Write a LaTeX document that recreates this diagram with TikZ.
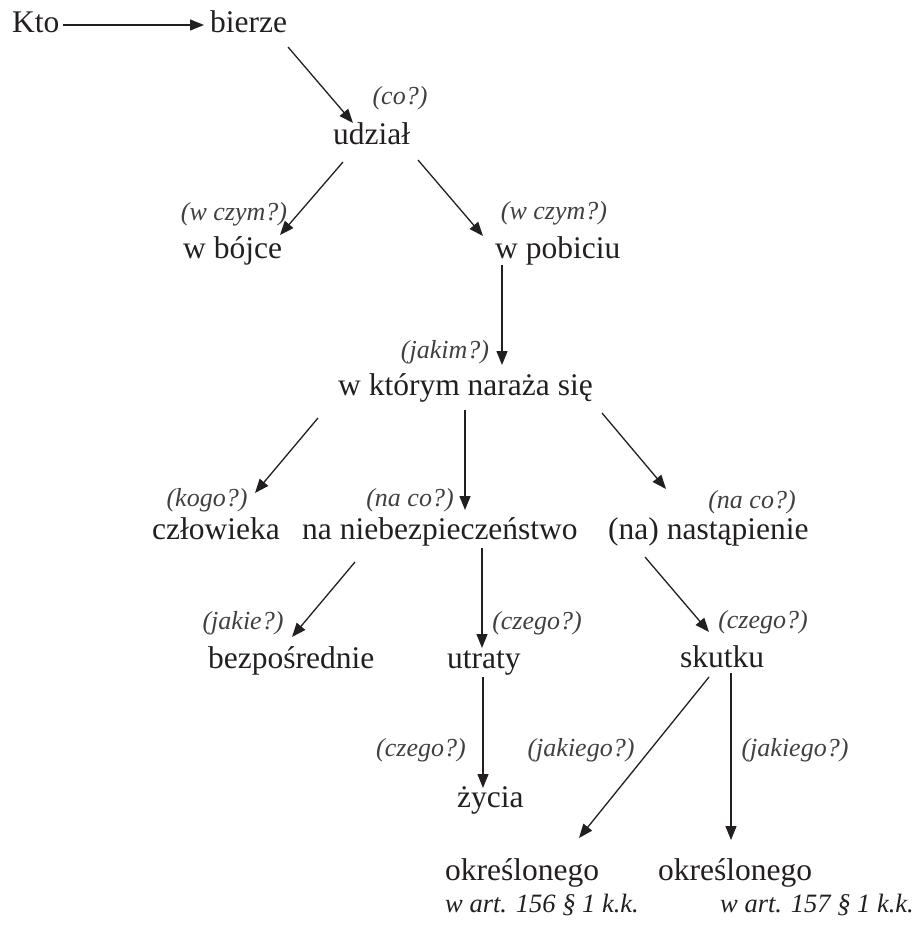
\documentclass[tikz,border=0pt]{standalone}
\usepackage{fontspec}
\setmainfont{Liberation Serif}
\usetikzlibrary{arrows.meta}
\definecolor{inkmain}{HTML}{231F20}
\definecolor{inkask}{HTML}{404040}
\begin{document}
\begin{tikzpicture}[x=1pt,y=-1pt,
 word/.style={anchor=base west,inner sep=0pt,text=inkmain,font=\fontsize{31.5}{36}\selectfont},
 ask/.style={inner sep=0pt,text=inkask,font=\fontsize{26}{30}\selectfont\itshape},
 art/.style={anchor=base west,inner sep=0pt,text=inkmain,font=\fontsize{26.5}{30}\selectfont\itshape},
 arr/.style={draw=inkmain,line width=1.3pt,-{Triangle[length=14pt,width=11pt]}}]
 \useasboundingbox (0,0) rectangle (917,925);
 \node[word] (kto) at (12,33) {Kto};
 \node[word] (bierze) at (210,33) {bierze};
 \node[word] (udzial) at (333,145) {udział};
 \node[word] (bojce) at (183,258) {w bójce};
 \node[word] (pobiciu) at (495,258) {w pobiciu};
 \node[word] (ktorym) at (338,395) {w którym naraża się};
 \node[word] (czlowieka) at (152,539) {człowieka};
 \node[word] (niebezp) at (302,539) {na niebezpieczeństwo};
 \node[word] (nastap) at (608,539) {(na) nastąpienie};
 \node[word] (bezpos) at (208,668) {bezpośrednie};
 \node[word] (utraty) at (447,668) {utraty};
 \node[word] (skutku) at (680,667) {skutku};
 \node[word] (zycia) at (457,807) {życia};
 \node[word] (okresl1) at (445,880) {określonego};
 \node[word] (okresl2) at (658,880) {określonego};
 \node[art] (art156) at (445,912) {w art. 156 § 1 k.k.};
 \node[art] (art157) at (720,912) {w art. 157 § 1 k.k.};
 \node[ask] (co) at (400,98) {(co?)};
 \node[ask] (wczym1) at (234,214) {(w czym?)};
 \node[ask] (wczym2) at (554,213) {(w czym?)};
 \node[ask] (jakim) at (445,352) {(jakim?)};
 \node[ask] (kogo) at (207,500) {(kogo?)};
 \node[ask] (naco1) at (410,500) {(na co?)};
 \node[ask] (naco2) at (752,502) {(na co?)};
 \node[ask] (jakie) at (243,623) {(jakie?)};
 \node[ask] (czego1) at (537,623) {(czego?)};
 \node[ask] (czego2) at (763,622) {(czego?)};
 \node[ask] (czego3) at (421,750) {(czego?)};
 \node[ask] (jakiego1) at (581,750) {(jakiego?)};
 \node[ask] (jakiego2) at (795,750) {(jakiego?)};
 \draw[arr] ([shift={(51,-8)}]kto.base west) -- ([shift={(-6,-8)}]bierze.base west);
 \draw[arr] ([shift={(78,14)}]bierze.base west) -- ([shift={(20,-22)}]udzial.base west);
 \draw[arr] ([shift={(10,17)}]udzial.base west) -- ([shift={(97,-23)}]bojce.base west);
 \draw[arr] ([shift={(85,15)}]udzial.base west) -- ([shift={(-12,-22)}]pobiciu.base west);
 \draw[arr] ([shift={(7,7)}]pobiciu.base west) -- ([shift={(164,-30)}]ktorym.base west);
 \draw[arr] ([shift={(-20,23)}]ktorym.base west) -- ([shift={(103,-46)}]czlowieka.base west);
 \draw[arr] ([shift={(127,15)}]ktorym.base west) -- ([shift={(163,-29)}]niebezp.base west);
 \draw[arr] ([shift={(264,18)}]ktorym.base west) -- ([shift={(58,-50)}]nastap.base west);
 \draw[arr] ([shift={(53,23)}]niebezp.base west) -- ([shift={(84,-31)}]bezpos.base west);
 \draw[arr] ([shift={(180,9)}]niebezp.base west) -- ([shift={(35,-20)}]utraty.base west);
 \draw[arr] ([shift={(37,18)}]nastap.base west) -- ([shift={(29,-35)}]skutku.base west);
 \draw[arr] ([shift={(36,9)}]utraty.base west) -- ([shift={(26,-19)}]zycia.base west);
 \draw[arr] ([shift={(29,10)}]skutku.base west) -- ([shift={(134,-42)}]okresl1.base west);
 \draw[arr] ([shift={(51,6)}]skutku.base west) -- ([shift={(73,-40)}]okresl2.base west);
\end{tikzpicture}
\end{document}
